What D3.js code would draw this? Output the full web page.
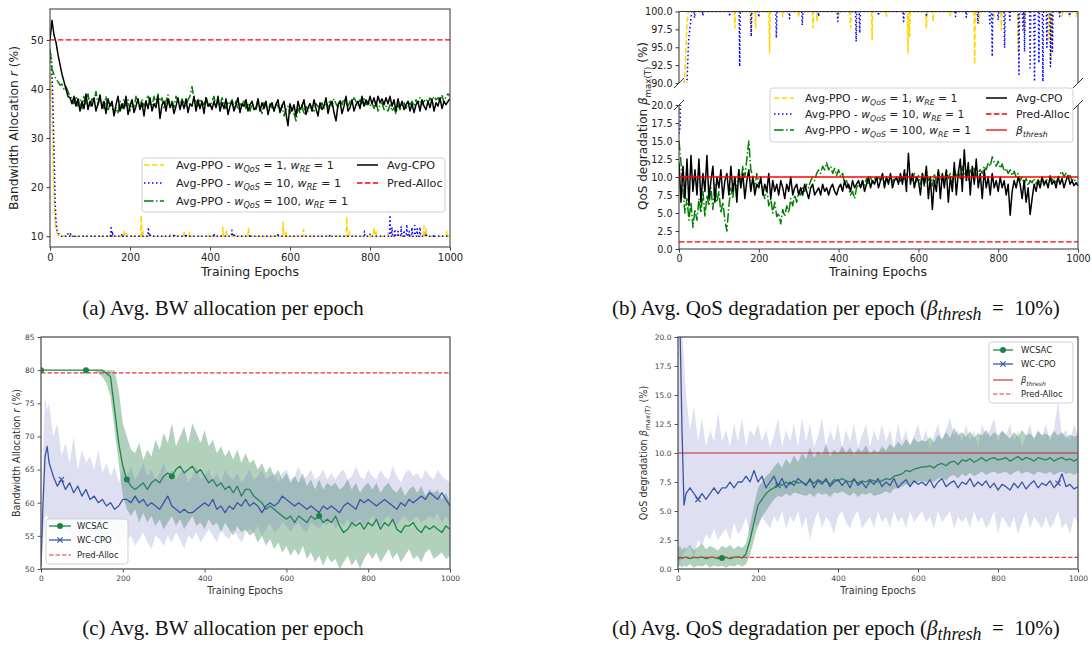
<!DOCTYPE html>
<html lang="en">
<head>
<meta charset="utf-8">
<title>BW allocation / QoS degradation per epoch</title>
<script src="https://cdn.jsdelivr.net/npm/d3@7"></script>
<style>
body { margin: 0; background: #fff; }
svg { display: block; }
</style>
</head>
<body>
<script>
// ---------- DATA ----------
var epochsAB = d3.range(0, 1001, 5);
var epochsCD = [0, 5, 10, 15].concat(d3.range(20, 1001, 10));
var ticksX = [0, 200, 400, 600, 800, 1000];

// (a) bandwidth allocation r (%)
var cpoBW = [50, 54, 51, 49.5, 47, 45, 43, 41.5, 40, 38.5, 38.2,
37, 38.5, 36.5, 38, 35.5, 37.5, 36, 39, 35.8, 37.5,
36.5, 38.2, 35.5, 37, 38.8, 36, 37.5, 35, 38, 36.5,
37.5, 34.5, 36.8, 38.5, 35.5, 37, 36, 38.5, 34.8, 36.5,
37.8, 35.2, 36.5, 38, 35.8, 37.2, 34.5, 37.5, 36, 38.2,
35.5, 37, 36.2, 38.5, 34, 36.8, 37.5, 35.5, 38, 36.2,
37.2, 35, 36.5, 38.2, 35.8, 37.5, 36, 38, 35.2, 37,
36.5, 38.5, 35.5, 37.8, 36, 37.5, 35, 38.2, 36.5, 37,
35.8, 37.5, 36.2, 38.5, 35.5, 37.2, 36, 38, 34.8, 36.5,
37.5, 35.5, 36.8, 38.2, 35.2, 37, 36.5, 37.8, 35.5, 36.8,
37.5, 35.8, 36.2, 38, 35.5, 37.2, 36, 37.5, 34.8, 36.5,
37.2, 35.5, 36.8, 37.8, 35.2, 36.5, 37.5, 35, 32.5, 37,
35.5, 36.8, 34.5, 37.5, 35.8, 36.5, 37.8, 34.8, 36.2, 37,
35.5, 37.8, 36, 34.5, 37.2, 35.8, 36.5, 38.2, 35, 36.8,
37.5, 35.2, 33.5, 36.8, 37.5, 35, 36.5, 38.5, 35.5, 36.2,
37.8, 35.5, 36.8, 37.5, 36, 38.5, 36.5, 37.8, 36.8, 38.5,
37, 38.2, 36.5, 38.5, 37.2, 38, 36.8, 38.2, 37, 38.5,
36.5, 37.8, 35.5, 38, 36.2, 37.5, 35.8, 36.8, 37.5, 35.5,
37, 35.2, 36.8, 37.5, 35.5, 37.8, 36.5, 35.8, 37.5, 36.2,
38, 35.5, 37.2, 36.5, 38.2, 36, 37.5, 36.8, 37.5, 38];
var ppo100BW = [48, 44, 43, 42, 41.5, 40.8, 41, 40, 40.5, 39.5, 38.5,
38, 37, 38.5, 36.5, 37.8, 36, 38.5, 37, 39, 36.5,
38, 37.5, 39.5, 36.8, 38, 37.2, 36, 38.5, 35.5, 37,
36.5, 34.8, 36.2, 35, 37.5, 36, 38, 36.5, 37.8, 35.5,
37.5, 36, 38.5, 37, 36.2, 38, 36.5, 37.5, 38.8, 37,
36.5, 38.5, 37, 39, 37.5, 38.2, 36, 37.5, 38.8, 36.5,
37.8, 36.2, 38.5, 37.5, 36.5, 38, 37, 36.5, 37.8, 38.5,
40.5, 38, 37.5, 36.5, 38, 37.2, 36.8, 38.5, 37, 36.5,
37.5, 38.5, 36.2, 37.8, 36.5, 38.2, 37, 36, 37.5, 36.8,
37.8, 36.2, 37.5, 35.8, 37, 36.5, 37.8, 36, 37.2, 35.5,
37, 36.5, 35.8, 37.5, 36.2, 35, 37.2, 36.5, 35.5, 37,
36.2, 35.5, 37, 36.5, 35.2, 36.8, 34.5, 35.8, 36.5, 35,
36.2, 35, 33.5, 36, 35.2, 36.8, 34.8, 36.5, 35.5, 37,
36, 35.2, 37, 36.5, 35.8, 37.2, 36, 37.5, 36.2, 37.8,
36.5, 38, 37, 36.2, 37.8, 36.8, 38, 37.2, 36.5, 37.5,
37, 38.2, 37.5, 36.5, 37.8, 37, 38, 36.8, 37.5, 36.5,
37.2, 36, 37.5, 35.5, 36.8, 37.2, 35.8, 36.5, 35.5, 36.8,
35.5, 36.2, 35, 36.8, 35.8, 36.5, 37.2, 36, 37.5, 36.8,
37.5, 36.5, 37.8, 37, 38.2, 36.8, 37.5, 38, 37.2, 38.2,
37.5, 38.5, 37.8, 38.2, 37.5, 38.8, 37.2, 38.5, 39, 38.5];
var ppo1BWHead = [[0, 48], [3, 45], [5, 38], [7, 30], [9, 22], [11, 16], [13, 12.5], [16, 11], [20, 10.3], [24, 10]];
var ppo1BWSpikes = [[51, 10.4], [150, 10.3], [185, 11], [190, 10.6], [228, 14.2], [232, 11], [300, 10.4], [335, 11], [349, 10.8], [398, 10.3], [432, 11.8], [441, 11.2], [496, 11.6], [583, 12.9], [590, 11], [634, 11.4], [742, 13.9], [748, 11], [810, 11.8], [815, 11.2], [845, 10.6], [870, 10.8], [935, 12.1], [940, 11.5], [992, 11]];
var ppo10BWHead = [[0, 48], [4, 46], [7, 38], [9, 31], [11, 24], [13, 17], [15, 13], [18, 11], [22, 10.5], [27, 10]];
var ppo10BWSpikes = [[45, 10.5], [51, 10.6], [60, 10.3], [153, 12.1], [156, 11], [180, 10.5], [246, 11.8], [250, 10.6], [310, 10.5], [340, 10.5], [410, 10.6], [455, 11.2], [460, 10.6], [500, 10.4], [570, 10.6], [700, 10.3], [786, 11], [800, 10.4], [850, 14.3], [855, 11.8], [862, 11.4], [870, 11], [878, 12], [885, 11.2], [892, 12.4], [898, 11], [905, 11.8], [912, 12.2], [918, 11.5], [925, 11.8], [940, 10.6], [960, 10.4]];
var predBW = 50;

// (b) QoS degradation beta_max(T) (%)
var cpoQoS = [12, 6.5, 11.5, 7, 12.5, 6, 13, 8, 11, 7.5, 12.5,
6.5, 10.5, 8, 13, 7, 9.5, 11.5, 6.5, 10, 8.5,
11, 7, 9.5, 10.5, 7.5, 11.5, 8, 10, 6.5, 11,
8.5, 10.5, 7, 9.5, 11, 8, 10, 7.5, 9, 8.5,
10, 7.5, 9, 8, 10.5, 7, 9.5, 8, 9, 7.5,
9.5, 8.5, 7, 9, 8, 10, 7.5, 8.5, 9, 7.5,
8.5, 7.5, 9, 8, 7, 8.5, 9, 7.5, 8, 8.5,
7.5, 9, 8, 8.5, 7.5, 8.5, 9, 8, 7.5, 8.5,
9, 8, 9.5, 8.5, 9, 8, 9.5, 8.5, 9, 9.5,
8.5, 9.5, 8, 9, 10, 8.5, 9.5, 9, 10, 8.5,
9.5, 10.5, 8.5, 10, 9, 10.5, 8.5, 9.5, 10, 9,
10.5, 9, 11, 8, 13.3, 9, 10.5, 8.5, 10, 9.5,
7.5, 10.5, 9, 11.5, 7, 10, 5.5, 9.5, 8, 11,
7, 10.5, 8.5, 11, 6.5, 10, 8, 12, 7.5, 10.5,
12.5, 8, 13.8, 9.5, 12, 7.5, 11.5, 9, 12.5, 8.5,
10.5, 7, 11, 8.5, 10, 7.5, 10.5, 8.5, 9.5, 8,
10, 8.5, 9.5, 7.5, 9, 4.7, 8, 9.5, 8.5, 10,
9, 7, 9.5, 6.5, 8.5, 4.8, 7, 9, 8, 9.5,
8.5, 10, 9, 9.5, 8.5, 10, 9, 9.5, 8.5, 10,
9, 9.8, 8.5, 9.5, 10.2, 9, 9.5, 8.8, 9.2, 8.8];
var ppo100QoS = [15, 12, 8, 5, 7, 4, 6.5, 3, 5.5, 4, 7,
5, 8, 4.5, 7.5, 6, 8.5, 5.5, 9, 6.5, 8,
5, 6.5, 4, 2.5, 6, 8.5, 7, 10, 8, 11,
9, 11.5, 10, 12.5, 15, 11, 10, 8.5, 10.5, 9,
9.5, 8, 7, 8.5, 6, 7, 5, 6.5, 4.5, 5,
3.5, 5.5, 4.5, 6, 5, 7, 6, 7.5, 6.5, 8,
7.5, 8.5, 8, 9, 8.5, 9.5, 10, 9.5, 10.5, 11,
10.5, 11.5, 11, 12, 11, 11.5, 10.5, 11.2, 10.2, 11,
10, 10.5, 9, 9.5, 8.5, 7.5, 8, 7, 8.5, 9,
8.5, 9.5, 8.8, 9.8, 9, 10, 9.2, 9.8, 9.5, 10,
9.5, 10, 9.2, 9.8, 9.5, 10.2, 9.3, 9.8, 9.6, 10,
9.4, 10.2, 9.6, 10.4, 9.8, 10, 9.5, 10.5, 9.3, 10.2,
9, 10.5, 8.5, 10.8, 9.5, 10, 8.8, 10.5, 9.2, 10.8,
9.5, 10.2, 9, 11, 9.8, 10.5, 9.2, 11.2, 10, 10.8,
9.8, 11.5, 10.2, 10.8, 9.6, 11, 10.4, 11.2, 10, 10.6,
11, 10.5, 11.5, 11, 12, 11.5, 12.8, 12, 11.5, 12.2,
11.2, 11.8, 10.8, 11.2, 10.5, 11, 10.2, 10.8, 10, 10.5,
9.5, 10, 9, 9.8, 8.8, 9.5, 9.2, 9.8, 9, 9.6,
9.2, 9.8, 8.8, 9.5, 9.8, 10.2, 9.5, 10, 9.2, 9.8,
10.4, 10.8, 10, 10.5, 9.8, 10.2, 9.5, 9.8, 9.2, 8.8];
var ppo1QoSHead = [[0, 19], [3, 30], [7, 75], [11, 89], [14, 90.5], [17, 94], [20, 98], [23, 100]];
var ppo1QoSDips = [[140, 97.7], [180, 97], [192, 97.7], [227, 94.2], [260, 99.3], [300, 99.2], [336, 97.7], [346, 98.6], [400, 99.4], [430, 97.7], [484, 96], [520, 99.3], [574, 94.2], [578, 96.5], [620, 97.7], [637, 98.6], [680, 99.4], [741, 92.6], [752, 98.3], [790, 99.2], [808, 97.4], [850, 94.2], [866, 97.2], [927, 96], [933, 93.3], [960, 99.3], [979, 99.3], [996, 99.3]];
var ppo10QoSHead = [[0, 16], [3, 17], [6, 40], [10, 70], [16, 88], [20, 90], [24, 96], [28, 98], [32, 100]];
var ppo10QoSDips = [[39, 99.1], [60, 99.4], [127, 99.3], [152, 92.3], [181, 96.5], [200, 99.2], [244, 96.3], [277, 99], [309, 98.1], [350, 99.3], [398, 98.6], [444, 95.8], [453, 97], [500, 99.4], [563, 98.6], [620, 99.5], [693, 99.3], [720, 99.2], [749, 98.3], [779, 98.3], [785, 93.7], [800, 98.8], [816, 94.9], [829, 98.8], [852, 91.2], [862, 97.4], [866, 94.4], [880, 92.1], [891, 90.2], [902, 92.8], [912, 90.2], [922, 95], [931, 92.3], [936, 94.4], [954, 99.3], [979, 99.4]];
var predQoS = 1;
var threshQoS = 10;

// (c) WCSAC / WC-CPO bandwidth allocation (mean, lower, upper)
var wcsacBW = [80, 80, 80, 80,
80, 80, 80, 80, 80, 80, 80, 80, 80, 80,
80, 80, 80, 80, 79.5, 79, 74, 69, 65.5, 63.5,
62.5, 62, 62.5, 63, 62, 63, 63.5, 63, 64, 64.5,
64, 65, 65.5, 64.5, 65, 65.5, 64.5, 65, 64, 63,
63.5, 62.5, 63, 62, 62.5, 61.5, 62.5, 61, 62, 62,
61, 60.5, 60, 59, 59.5, 59, 58.5, 58, 57.5, 58,
57, 58, 57.5, 57, 58, 57.5, 58, 57, 57.5, 57,
58, 56.5, 55.5, 56, 57, 56.5, 57, 56, 57, 56.5,
57.5, 56, 57, 56.5, 57.5, 56, 55.5, 56.5, 56.5, 57,
56, 55.5, 56.5, 56, 56.5, 56, 55.5, 56.5, 56];
var wcsacBWLo = [80, 80, 80, 80,
80, 80, 80, 80, 80, 80, 80, 80, 80, 80,
80, 80, 79.5, 79, 78, 76, 71, 66, 61, 59,
58, 59, 57, 58.5, 57, 58, 56.5, 57.5, 56, 57,
58, 56.5, 57.5, 56, 57, 58, 56.5, 57, 56, 57.5,
56.5, 57, 55.5, 57, 56, 55, 56.5, 55.5, 56, 55,
55.5, 54, 55, 53.5, 54.5, 53, 54, 52.5, 53.5, 52,
53, 52, 53.5, 51.5, 52.5, 51, 52, 50.5, 52, 51,
51.5, 50, 51, 52, 50.5, 51.5, 50, 51.5, 52.5, 51.5,
52.5, 51, 52, 53, 51.5, 52.5, 51, 52, 53, 51.5,
52, 51, 52.5, 53, 51.5, 52, 52.5, 51.5, 52];
var wcsacBWHi = [80, 80, 80, 80,
80, 80, 80, 80, 80, 80, 80, 80, 80, 80,
80, 80, 80, 80, 80, 80, 80, 77, 72, 70,
68, 67.5, 69, 66.5, 68, 67, 69.5, 68, 70.5, 69,
72, 68.5, 70, 71.5, 69, 72, 70.5, 69, 71, 68.5,
69.5, 67.5, 68.5, 67, 68, 66.5, 68, 66, 67.5, 66,
66.5, 65, 66, 64.5, 65.5, 64, 65, 63.5, 64.5, 63,
64, 63, 64.5, 62.5, 63.5, 62, 63.5, 62, 63, 62.5,
63, 62, 62.5, 63.5, 62, 63, 61.5, 62.5, 63, 62,
63, 61.5, 62.5, 63, 62, 61.5, 62.5, 61, 62, 62.5,
61.5, 62.5, 61, 62, 61.5, 62, 60.5, 61.5, 60];
var wccpoBW = [50.5, 60, 67, 68.5,
66, 64, 62.5, 63.5, 62, 63, 61.5, 62.5, 61, 62,
60.5, 61, 60, 60.5, 59.5, 60, 59, 59.5, 60.5, 60.5,
60, 61, 60, 60.5, 59.5, 60, 59.5, 59, 60, 61,
59.5, 59, 58.5, 59, 58.5, 58.5, 59, 59.5, 60, 59.5,
60.5, 59, 59.5, 58.5, 59.5, 59, 60, 59.5, 60.5, 59.5,
60, 59.5, 58.5, 59.5, 60, 59.5, 60, 61, 60.5, 60,
59.5, 60, 59.5, 59, 59.5, 59, 58.5, 59.5, 59, 59.5,
59, 58.5, 59.5, 60, 59.5, 59, 60.5, 60, 60.5, 60,
59.5, 60, 60.5, 60, 59.5, 59, 60, 59.5, 60.5, 60,
60.5, 61, 60.5, 61.5, 61, 60.5, 61.5, 60.5, 59.5];
var wccpoBWLo = [50, 54, 58, 58,
57, 55, 56, 54.5, 56, 55, 53.5, 55.5, 54, 55,
54, 55.5, 53.5, 54.5, 53, 55, 54, 53.5, 55, 54.5,
55, 53.5, 54.5, 55.5, 54, 53, 55, 54.5, 53.5, 55,
54, 55.5, 54.5, 53, 55, 54.5, 55.5, 54, 55, 56,
55, 54, 56, 55, 54.5, 56, 55, 54, 55.5, 56,
55.5, 56.5, 55, 56, 57, 55.5, 56, 57, 56.5, 55.5,
56.5, 57, 56, 55.5, 57, 56.5, 56, 57, 56.5, 57.5,
56, 57, 56.5, 57.5, 56, 57, 57.5, 56.5, 57, 58,
57, 56.5, 57.5, 58, 57, 56.5, 57.5, 58, 57, 57.5,
58, 57, 57.5, 58, 57.5, 58.5, 57, 58, 57];
var wccpoBWHi = [51, 68, 76, 74,
75, 70, 72, 67, 69, 66, 70, 65, 68, 66,
67, 65, 68, 64.5, 66, 64, 65.5, 63, 65, 64,
65.5, 63.5, 64.5, 66, 64, 65, 63.5, 64.5, 66, 64,
65, 63.5, 64.5, 65, 63, 64, 65.5, 63.5, 64, 65,
63.5, 64.5, 63, 65, 64, 63.5, 64.5, 63, 64, 65,
63.5, 64, 65, 63.5, 64, 64.5, 63, 64.5, 65, 63.5,
64, 65.5, 63.5, 64, 65, 63.5, 64, 65, 63.5, 64.5,
63.5, 64.5, 65, 63.5, 64, 65.5, 64, 63.5, 65, 64,
63.5, 65, 64, 63.5, 65.5, 64, 63, 64.5, 65, 64,
64.5, 63.5, 65, 64, 63.5, 65, 64, 63.5, 63];
var predBWc = 79.6;
var wcsacBWMarks = [0, 110, 210, 320, 680];
var wccpoBWMarks = [50];

// (d) WCSAC / WC-CPO QoS degradation (mean, lower, upper)
var wcsacQoS = [0.8, 1, 0.9, 1,
1, 0.9, 1, 0.95, 1.05, 0.9, 1, 1, 0.9, 0.95,
1, 0.9, 1, 1.05, 0.95, 1.3, 2.5, 4, 5.5, 6,
6.5, 6.8, 7, 7.3, 7.2, 7.5, 7.3, 7.6, 7.4, 7.5,
7.3, 7.6, 7.4, 7.7, 7.5, 7.6, 7.3, 7.7, 7.6, 7.8,
7.6, 7.5, 7.7, 7.4, 7.6, 7.5, 7.7, 7.6, 7.5, 7.6,
7.8, 7.7, 8, 8.1, 8.2, 8.5, 8.4, 8.6, 8.7, 8.8,
8.8, 8.9, 8.7, 9, 9.1, 8.9, 9.2, 9.3, 9, 9.4,
9.3, 9.5, 9.2, 9.4, 9.6, 9.3, 9.5, 9.6, 9.4, 9.5,
9.6, 9.3, 9.5, 9.7, 9.4, 9.6, 9.5, 9.3, 9.6, 9.5,
9.4, 9.6, 9.3, 9.5, 9.6, 9.4, 9.5, 9.3, 9.5];
var wcsacQoSLo = [0.2, 0.3, 0.1, 0.3,
0.2, 0.4, 0.1, 0.3, 0.2, 0.4, 0.1, 0.3, 0.2, 0.3,
0.1, 0.3, 0.2, 0.4, 0.2, 0.4, 1.2, 2.5, 3.8, 4.5,
5, 5.5, 6, 6.3, 6.2, 6.5, 6.3, 6.6, 6.5, 6.4,
6.3, 6.5, 6.2, 6.6, 6.4, 6.5, 6.2, 6.6, 6.5, 6.7,
6.5, 6.3, 6.6, 6.2, 6.5, 6.4, 6.6, 6.3, 6.4, 6.5,
6.7, 6.5, 6.9, 7, 7.1, 7.3, 7.2, 7.4, 7.5, 7.6,
7.5, 7.7, 7.5, 7.8, 7.9, 7.6, 8, 8.1, 7.8, 8.2,
8, 8.3, 8, 8.2, 8.4, 8.1, 8.3, 8.4, 8.2, 8.3,
8.4, 8.1, 8.3, 8.5, 8.2, 8.4, 8.3, 8.1, 8.4, 8.3,
8.2, 8.4, 8.1, 8.3, 8.4, 8.2, 8.3, 8.1, 8.3];
var wcsacQoSHi = [1.8, 2, 1.6, 1.9,
1.7, 2.1, 1.6, 1.9, 2.2, 1.7, 2, 1.8, 1.6, 2,
1.8, 2.1, 1.7, 2, 1.8, 2.2, 3.8, 5.5, 7, 7.5,
8, 8.3, 8.8, 9.2, 8.7, 9.5, 9, 9.8, 9.2, 10,
9.5, 10.5, 9.6, 10.2, 9.8, 10.8, 9.7, 10.3, 9.9, 10.6,
10, 10.5, 9.8, 10.4, 10.1, 10.7, 9.9, 10.3, 10, 10.6,
10.2, 10.8, 10.4, 11, 10.6, 11.2, 10.7, 11.3, 10.9, 11.1,
11, 11.4, 10.9, 11.6, 11.2, 11.8, 11.3, 12.2, 11.5, 11.8,
11.4, 11.9, 11.3, 11.7, 11.5, 12, 11.4, 11.8, 11.5, 11.9,
11.6, 11.2, 11.8, 11.4, 12, 11.5, 11.7, 11.3, 11.9, 11.5,
11.7, 11.4, 11.9, 11.5, 11.8, 11.3, 11.6, 11.4, 11.5];
var wccpoQoS = [26, 21, 12, 5.5,
6.5, 7, 6.5, 6, 6.5, 6, 6.5, 7, 6.5, 7,
7, 7.5, 7, 7.5, 7.5, 8, 7.5, 8.5, 7.5, 8,
7, 7.5, 8, 7.2, 7.8, 7, 7.5, 7.2, 7.8, 7.5,
7.2, 7.8, 7, 7.6, 7.3, 7.8, 7.1, 7.5, 7.7, 7.2,
7.6, 7, 7.8, 7.2, 7.5, 7, 7.6, 7.3, 7.8, 7.1,
7.5, 7.2, 7.8, 7, 7.4, 7.7, 7.1, 7.6, 7.3, 7.5,
7.2, 7.7, 7, 7.5, 7.8, 7.1, 7.4, 7.6, 7, 7.5,
7.3, 7.8, 7.1, 7.5, 7.2, 7.6, 7, 7.4, 6.8, 7.3,
7.1, 6.8, 7.4, 7, 7.5, 6.9, 7.3, 7.6, 7, 7.4,
7.2, 7.6, 7, 7.4, 8.2, 7.1, 7.3, 6.9, 7.1];
var wccpoQoSLo = [0, 0.5, 1, 1.5,
1.5, 2, 1, 2.5, 2, 3, 2.5, 3.5, 2.5, 3,
3.5, 2.5, 4, 3, 3.5, 4.5, 3, 4, 3.5, 4.5,
4, 3.5, 4.5, 4, 5, 3.5, 4.5, 4, 5, 3.5,
4.5, 2.5, 4, 5, 3.5, 4.5, 4, 3, 4.5, 5,
4, 3.5, 4.5, 5, 3.5, 4, 4.5, 3.5, 5, 4,
4.5, 3.5, 5, 4, 4.5, 3.5, 5, 4, 4.5, 5,
4, 4.5, 3.5, 5, 4, 4.5, 5, 3.5, 4.5, 4,
4.5, 3.5, 5, 4, 4.5, 3.5, 4, 5, 3, 4.5,
4, 3.5, 4.5, 3, 4, 5, 3.5, 4.5, 4, 3.5,
4.5, 3.5, 4, 5, 3.5, 4, 3, 4.5, 4];
var wccpoQoSHi = [25, 22, 21, 18,
15, 12, 14, 11, 13, 10.5, 12, 11, 13.5, 11,
12, 10.5, 12.5, 11, 13, 10.5, 12, 11.5, 12.5, 11,
12, 10.5, 11.5, 13, 10.5, 12, 11, 12.5, 10.5, 13,
11, 12.5, 10.5, 11.5, 13, 10.5, 12, 11, 12.5, 10.5,
12, 11, 12.5, 10.5, 11.5, 12.5, 10.5, 12, 11, 12.5,
11, 12, 10.5, 12.5, 11, 12, 10.5, 11.5, 12.5, 11,
12, 10.5, 11.5, 12.5, 11, 12, 13, 11.5, 12, 11,
12.5, 11, 12, 10.5, 12.5, 11.5, 12, 13, 11, 12,
11.5, 12.5, 11, 12, 10.5, 11.5, 12.5, 11, 12, 11.5,
12.5, 11, 12, 14.5, 11.5, 12, 11, 12.5, 11.5];
var wcsacQoSMarks = [110];
var wccpoQoSMarks = [50, 250, 950];

// ---------- HELPERS ----------
var W = 1092, H = 648;
var FONT = "DejaVu Sans, sans-serif";
var svg = d3.select("body").append("svg").attr("width", W).attr("height", H);
svg.append("rect").attr("width", W).attr("height", H).attr("fill", "#fff");

var clipId = 0;
function clipped(x, y) {
  var id = "clip" + (clipId++);
  var x0 = x.range()[0], x1 = x.range()[1];
  var y0 = y.range()[1], y1 = y.range()[0];
  svg.append("clipPath").attr("id", id).append("rect")
    .attr("x", x0).attr("y", y0).attr("width", x1 - x0).attr("height", y1 - y0);
  return svg.append("g").attr("clip-path", "url(#" + id + ")");
}

// text with italic / subscript parts: [string, kind]  kind: n, i, s, is
function mathText(t, parts, fs, subScale, subShift) {
  subScale = subScale || 0.72;
  subShift = subShift || 0.3;
  var cur = 0;
  parts.forEach(function(p) {
    var k = p[1] || "n";
    var sub = k.indexOf("s") >= 0;
    var target = sub ? fs * subShift : 0;
    var ts = t.append("tspan").text(p[0]).attr("dy", target - cur);
    cur = target;
    if (k.indexOf("i") >= 0) ts.attr("font-style", "italic");
    if (sub) ts.attr("font-size", fs * subScale);
  });
  return t;
}

function styleAxis(g, fs, color) {
  g.select(".domain").remove();
  g.selectAll(".tick line").attr("stroke", color).attr("stroke-width", 0.9);
  g.selectAll(".tick text").attr("font-size", fs).attr("fill", color).attr("font-family", FONT);
}

function xAxis(x, yPos, fs, color) {
  var g = svg.append("g").attr("transform", "translate(0," + yPos + ")")
    .call(d3.axisBottom(x).tickValues(ticksX).tickFormat(d3.format("d"))
      .tickSize(3.5).tickPadding(3).tickSizeOuter(0));
  styleAxis(g, fs, color);
}
function yAxis(y, xPos, ticks, fmt, fs, color) {
  var g = svg.append("g").attr("transform", "translate(" + xPos + ",0)")
    .call(d3.axisLeft(y).tickValues(ticks).tickFormat(fmt).tickSize(3.5).tickPadding(3).tickSizeOuter(0));
  styleAxis(g, fs, color);
}
function frame(x, y, color, sw) {
  svg.append("rect")
    .attr("x", x.range()[0]).attr("y", y.range()[1])
    .attr("width", x.range()[1] - x.range()[0]).attr("height", y.range()[0] - y.range()[1])
    .attr("fill", "none").attr("stroke", color).attr("stroke-width", sw);
}

function pts(xs, ys) { return d3.zip(xs, ys); }
// baseline series with narrow spikes
function spikeSeries(head, spikes, base) {
  var out = head.slice();
  spikes.forEach(function(s) {
    out.push([s[0] - 1.5, base], s, [s[0] + 1.5, base]);
  });
  out.push([1000, base]);
  return out;
}

function drawLine(g, x, y, data, color, lw, dash) {
  var line = d3.line().x(function(d) { return x(d[0]); }).y(function(d) { return y(d[1]); });
  g.append("path").datum(data).attr("d", line).attr("fill", "none")
    .attr("stroke", color).attr("stroke-width", lw)
    .attr("stroke-dasharray", dash || null).attr("stroke-linejoin", "round");
}
function drawBand(g, x, y, xs, lo, hi, color, op) {
  var area = d3.area().x(function(d) { return x(d[0]); })
    .y0(function(d) { return y(d[1]); }).y1(function(d) { return y(d[2]); });
  g.append("path").datum(d3.zip(xs, lo, hi)).attr("d", area)
    .attr("fill", color).attr("fill-opacity", op).attr("stroke", "none");
}
function hline(g, x, y, v, color, lw, dash) {
  drawLine(g, x, y, [[0, v], [1000, v]], color, lw, dash);
}
function marks(g, x, y, epochs, values, which, mk) {
  which.forEach(function(e) {
    var i = epochs.indexOf(e);
    if (i >= 0) mk(g, x(e), y(values[i]));
  });
}

var DASH = "5.5,2.4", DOT = "1.5,2.5", DASHDOT = "9.6,2.4,1.5,2.4";
var YEL = "#ffd700", BLU = "#0000ff", GRN = "#008000", RED = "#ff0000";
var SACG = "#1b8545", CPOB = "#3b55a5", BANDG = "#2a8048", BANDB = "#6870c4";
var RED2 = "#e8363b", DRED = "#c0282d";

function legendBox(x0, y0, w, h) {
  svg.append("rect").attr("x", x0).attr("y", y0).attr("width", w).attr("height", h)
    .attr("rx", 3).attr("fill", "#fff").attr("fill-opacity", 0.85)
    .attr("stroke", "#cccccc").attr("stroke-width", 0.9);
}
function legendItem(hx0, hx1, yy, tx, color, lw, dash, parts, fs, marker) {
  svg.append("line").attr("x1", hx0).attr("x2", hx1).attr("y1", yy).attr("y2", yy)
    .attr("stroke", color).attr("stroke-width", lw).attr("stroke-dasharray", dash || null);
  if (marker) marker(svg, (hx0 + hx1) / 2, yy);
  var t = svg.append("text").attr("x", tx).attr("y", yy + fs * 0.36)
    .attr("font-family", FONT).attr("font-size", fs).attr("fill", "#222");
  mathText(t, parts, fs);
}
function dotMark(g, cx, cy) {
  g.append("circle").attr("cx", cx).attr("cy", cy).attr("r", 3).attr("fill", SACG);
}
function xMark(g, cx, cy) {
  g.append("path").attr("d", "M" + (cx - 2.6) + "," + (cy - 2.6) + "L" + (cx + 2.6) + "," + (cy + 2.6) +
    "M" + (cx - 2.6) + "," + (cy + 2.6) + "L" + (cx + 2.6) + "," + (cy - 2.6))
    .attr("stroke", CPOB).attr("stroke-width", 1.2).attr("fill", "none");
}
function yLabel(xPos, yc, parts, fs, color) {
  var t = svg.append("text").attr("transform", "translate(" + xPos + "," + yc + ") rotate(-90)")
    .attr("text-anchor", "middle").attr("font-family", FONT).attr("font-size", fs).attr("fill", color);
  mathText(t, parts, fs);
}
function xLabel(xc, yPos, fs, color) {
  svg.append("text").attr("x", xc).attr("y", yPos).attr("text-anchor", "middle")
    .attr("font-family", FONT).attr("font-size", fs).attr("fill", color).text("Training Epochs");
}

var L_PPO1 = [["Avg-PPO - "], ["w", "i"], ["QoS", "is"], [" = 1, "], ["w", "i"], ["RE", "is"], [" = 1"]];
var L_PPO10 = [["Avg-PPO - "], ["w", "i"], ["QoS", "is"], [" = 10, "], ["w", "i"], ["RE", "is"], [" = 1"]];
var L_PPO100 = [["Avg-PPO - "], ["w", "i"], ["QoS", "is"], [" = 100, "], ["w", "i"], ["RE", "is"], [" = 1"]];
var L_THR = [["β", "i"], ["thresh", "is"]];
var L_QOSY = [["QoS degradation "], ["β", "i"], ["max(T)", "s"], [" (%)"]];
var L_QOSY2 = [["QoS degradation "], ["β", "i"], ["max(T)", "is"], [" (%)"]];
var L_BWY = [["Bandwidth Allocation "], ["r", "i"], [" (%)"]];

// ---------- (a) ----------
var xa = d3.scaleLinear().domain([0, 1000]).range([50, 450]);
var ya = d3.scaleLinear().domain([7.8, 56.3]).range([247, 9]);
var ga = clipped(xa, ya);
drawLine(ga, xa, ya, spikeSeries(ppo1BWHead, ppo1BWSpikes, 10), YEL, 1.5, DASH);
drawLine(ga, xa, ya, spikeSeries(ppo10BWHead, ppo10BWSpikes, 10), BLU, 1.5, DOT);
drawLine(ga, xa, ya, pts(epochsAB, ppo100BW), GRN, 1.5, DASHDOT);
drawLine(ga, xa, ya, pts(epochsAB, cpoBW), "#000", 1.5);
hline(ga, xa, ya, predBW, RED, 1.3, DASH);
xAxis(xa, 247, 10, "#222");
yAxis(ya, 50, [10, 20, 30, 40, 50], d3.format("d"), 10, "#222");
frame(xa, ya, "#333", 1);
xLabel(250, 276, 12.5, "#222");
yLabel(18, 128, L_BWY, 12.3, "#222");
legendBox(142, 158, 303, 54);
legendItem(144, 164, 165, 176, YEL, 1.5, DASH, L_PPO1, 11.2);
legendItem(144, 164, 183, 176, BLU, 1.5, DOT, L_PPO10, 11.2);
legendItem(144, 164, 201, 176, GRN, 1.5, DASHDOT, L_PPO100, 11.2);
legendItem(357, 378, 165, 387, "#000", 1.5, null, [["Avg-CPO"]], 11.2);
legendItem(357, 378, 183, 387, RED, 1.3, DASH, [["Pred-Alloc"]], 11.2);

// ---------- (b) ----------
var xb = d3.scaleLinear().domain([0, 1000]).range([679, 1078]);
var ybT = d3.scaleLinear().domain([90, 100]).range([83, 11.5]);
var ybB = d3.scaleLinear().domain([0, 20]).range([249, 105]);
var gbT = clipped(xb, ybT);
var gbB = clipped(xb, ybB);
var ppo1Q = spikeSeries(ppo1QoSHead, ppo1QoSDips, 100);
var ppo10Q = spikeSeries(ppo10QoSHead, ppo10QoSDips, 100);
[gbT, gbB].forEach(function(g, k) {
  var yy = k === 0 ? ybT : ybB;
  drawLine(g, xb, yy, ppo1Q, YEL, 1.5, DASH);
  drawLine(g, xb, yy, ppo10Q, BLU, 1.5, DOT);
});
drawLine(gbB, xb, ybB, pts(epochsAB, ppo100QoS), GRN, 1.5, DASHDOT);
drawLine(gbB, xb, ybB, pts(epochsAB, cpoQoS), "#000", 1.5);
hline(gbB, xb, ybB, predQoS, RED, 1.3, DASH);
hline(gbB, xb, ybB, threshQoS, RED, 1.3);
xAxis(xb, 249, 9.6, "#222");
yAxis(ybT, 679, [90, 92.5, 95, 97.5, 100], d3.format(".1f"), 9.6, "#222");
yAxis(ybB, 679, d3.range(0, 20.1, 2.5), d3.format(".1f"), 9.6, "#222");
// spines of broken axis
var spine = svg.append("g").attr("stroke", "#333").attr("stroke-width", 1).attr("fill", "none");
spine.append("path").attr("d", "M679,83V11.5H1078V83");
spine.append("path").attr("d", "M679,105V249H1078V105");
[[679, 83], [1078, 83], [679, 105], [1078, 105]].forEach(function(p) {
  spine.append("line").attr("x1", p[0] - 5).attr("y1", p[1] + 5).attr("x2", p[0] + 5).attr("y2", p[1] - 5);
});
xLabel(878, 276, 12.5, "#222");
yLabel(647, 126, L_QOSY, 12, "#222");
legendBox(770, 88, 303, 54);
legendItem(774, 794, 98, 805, YEL, 1.5, DASH, L_PPO1, 10.8);
legendItem(774, 794, 114, 805, BLU, 1.5, DOT, L_PPO10, 10.8);
legendItem(774, 794, 130, 805, GRN, 1.5, DASHDOT, L_PPO100, 10.8);
legendItem(986, 1007, 98, 1016, "#000", 1.5, null, [["Avg-CPO"]], 10.8);
legendItem(986, 1007, 114, 1016, RED, 1.3, DASH, [["Pred-Alloc"]], 10.8);
legendItem(986, 1007, 130, 1016, RED, 1.3, null, L_THR, 10.8);

// ---------- (c) ----------
var xc = d3.scaleLinear().domain([0, 1000]).range([41, 450]);
var yc = d3.scaleLinear().domain([50, 85]).range([569, 337]);
var gc = clipped(xc, yc);
drawBand(gc, xc, yc, epochsCD, wcsacBWLo, wcsacBWHi, BANDG, 0.36);
drawLine(gc, xc, yc, pts(epochsCD, wcsacBW), SACG, 1.3);
drawBand(gc, xc, yc, epochsCD, wccpoBWLo, wccpoBWHi, BANDB, 0.22);
drawLine(gc, xc, yc, pts(epochsCD, wccpoBW), CPOB, 1.3);
hline(gc, xc, yc, predBWc, RED2, 1.2, "4.5,2");
marks(gc, xc, yc, epochsCD, wcsacBW, wcsacBWMarks, dotMark);
marks(gc, xc, yc, epochsCD, wccpoBW, wccpoBWMarks, xMark);
xAxis(xc, 569, 7.5, "#444");
yAxis(yc, 41, d3.range(50, 86, 5), d3.format("d"), 7.5, "#444");
frame(xc, yc, "#555", 1.3);
xLabel(245, 594, 9.6, "#333");
yLabel(20, 453, L_BWY, 9.6, "#333");
legendBox(46, 519, 82, 45);
legendItem(49, 71, 526, 77, SACG, 1.3, null, [["WCSAC"]], 8.4, dotMark);
legendItem(49, 71, 540, 77, CPOB, 1.3, null, [["WC-CPO"]], 8.4, xMark);
legendItem(49, 71, 555, 77, RED2, 1.2, "4.5,2", [["Pred-Alloc"]], 8.4);

// ---------- (d) ----------
var xd = d3.scaleLinear().domain([0, 1000]).range([678, 1078]);
var yd = d3.scaleLinear().domain([0, 20]).range([569, 337]);
var gd = clipped(xd, yd);
drawBand(gd, xd, yd, epochsCD, wcsacQoSLo, wcsacQoSHi, BANDG, 0.36);
drawLine(gd, xd, yd, pts(epochsCD, wcsacQoS), SACG, 1.3);
drawBand(gd, xd, yd, epochsCD, wccpoQoSLo, wccpoQoSHi, BANDB, 0.22);
drawLine(gd, xd, yd, pts(epochsCD, wccpoQoS), CPOB, 1.3);
hline(gd, xd, yd, threshQoS, DRED, 1.1);
hline(gd, xd, yd, predQoS, RED2, 1.2, "4.5,2");
marks(gd, xd, yd, epochsCD, wcsacQoS, wcsacQoSMarks, dotMark);
marks(gd, xd, yd, epochsCD, wccpoQoS, wccpoQoSMarks, xMark);
xAxis(xd, 569, 7.5, "#444");
yAxis(yd, 678, d3.range(0, 20.1, 2.5), d3.format(".1f"), 7.5, "#444");
frame(xd, yd, "#555", 1.3);
xLabel(878, 594, 9.6, "#333");
yLabel(647, 453, L_QOSY2, 9.6, "#333");
legendBox(989, 342, 84, 61);
legendItem(993, 1013, 350, 1021, SACG, 1.3, null, [["WCSAC"]], 8.4, dotMark);
legendItem(993, 1013, 364, 1021, CPOB, 1.3, null, [["WC-CPO"]], 8.4, xMark);
legendItem(993, 1013, 380, 1021, DRED, 1.1, null, L_THR, 8.4);
legendItem(993, 1013, 394, 1021, RED2, 1.2, "4.5,2", [["Pred-Alloc"]], 8.4);

// ---------- captions ----------
var CAPFS = 21;
var CAPFONT = "Liberation Serif, Times New Roman, serif";
function caption(x, y, anchor, parts) {
  var t = svg.append("text").attr("x", x).attr("y", y).attr("text-anchor", anchor)
    .attr("font-family", CAPFONT).attr("font-size", CAPFS).attr("fill", "#111");
  mathText(t, parts, CAPFS, 0.85, 0.22);
}
var capMath = [["β", "i"], ["thresh", "is"], ["\u2002=\u200210%)"]];
caption(223, 315, "middle", [["(a) Avg. BW allocation per epoch"]]);
caption(612, 315, "start", [["(b) Avg. QoS degradation per epoch ("]].concat(capMath));
caption(223, 635, "middle", [["(c) Avg. BW allocation per epoch"]]);
caption(612, 635, "start", [["(d) Avg. QoS degradation per epoch ("]].concat(capMath));
</script>
</body>
</html>
